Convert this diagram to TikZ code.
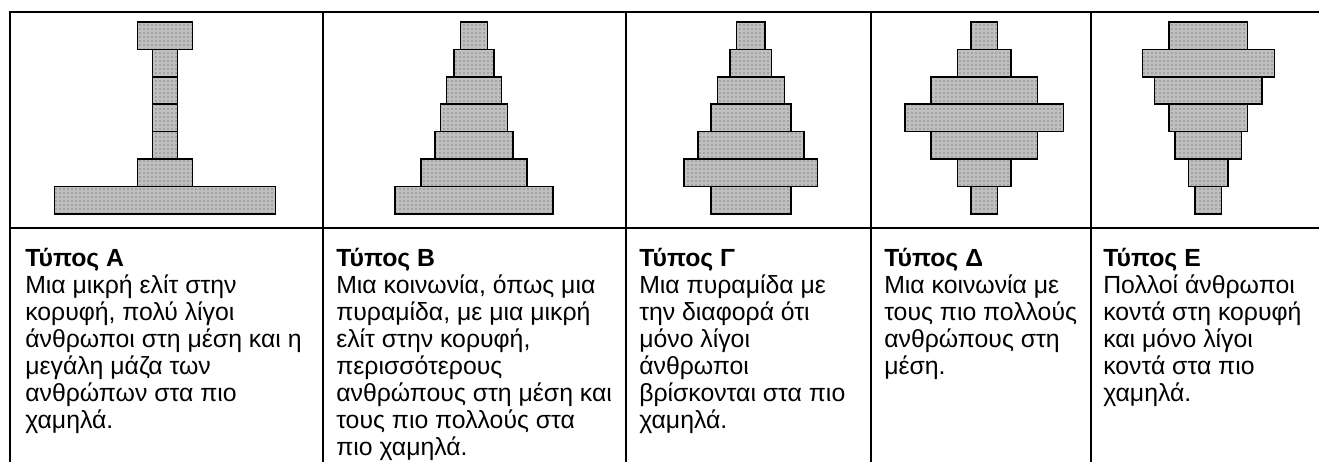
\documentclass[tikz,border=0pt]{standalone}
\usepackage{fontspec}
\setmainfont{Liberation Sans}
\usepackage{tikz}
\usetikzlibrary{patterns}

% one stacked layer of a diagram: centre x, half width, row number
\newcommand{\poprow}[3]{%
  \draw[block] ({#1-#2},{22+27.4*(#3-1)}) rectangle ({#1+#2},{22+27.4*#3});}

\begin{document}
\begin{tikzpicture}[
      x=0.75pt, y=-0.75pt,
      rule/.style={line width=1.5pt, line cap=rect},
      block/.style={draw, line width=1.1pt, preaction={fill=gray!50}, pattern=dots, pattern color=black!70},
      desc/.style={anchor=north west, inner sep=0pt, align=left, font=\fontsize{18.6}{20.2}\selectfont}
    ]
    \useasboundingbox (0,0) rectangle (1319,461);

    % table frame
    \draw[rule] (10,461) -- (10,12) -- (1319,12);
    \draw[rule] (10,228) -- (1319,228);
    \foreach \x in {323,626,871,1091}
      \draw[rule] (\x,12) -- (\x,461);

    % Type A
    \foreach \hw [count=\i] in {27.5,12.5,12.5,12.5,12.5,27.5,110.5}
      {\poprow{165}{\hw}{\i}}
    % Type B
    \foreach \hw [count=\i] in {13.5,20,27.5,33.3,39.2,52.8,79.2}
      {\poprow{474}{\hw}{\i}}
    % Type C
    \foreach \hw [count=\i] in {14.2,20.8,33.5,40,53,66.7,40}
      {\poprow{750.8}{\hw}{\i}}
    % Type D
    \foreach \hw [count=\i] in {13.3,26.8,53.3,79.2,53.3,26.8,13.3}
      {\poprow{984.3}{\hw}{\i}}
    % Type E
    \foreach \hw [count=\i] in {39.3,66,53.7,39.3,33.3,19.7,13.3}
      {\poprow{1208.4}{\hw}{\i}}

    % descriptions
    \node[desc] (tA) at (25,248) {\textbf{Τύπος Α}\\Μια μικρή ελίτ στην\\κορυφή, πολύ λίγοι\\άνθρωποι στη μέση και η\\μεγάλη μάζα των\\ανθρώπων στα πιο\\χαμηλά.};
    \node[desc] (tB) at (336,248) {\textbf{Τύπος Β}\\Μια κοινωνία, όπως μια\\πυραμίδα, με μια μικρή\\ελίτ στην κορυφή,\\περισσότερους\\ανθρώπους στη μέση και\\τους πιο πολλούς στα\\πιο χαμηλά.};
    \node[desc] (tC) at (639,248) {\textbf{Τύπος Γ}\\Μια πυραμίδα με\\την διαφορά ότι\\μόνο λίγοι\\άνθρωποι\\βρίσκονται στα πιο\\χαμηλά.};
    \node[desc] (tD) at (884,248) {\textbf{Τύπος Δ}\\Μια κοινωνία με\\τους πιο πολλούς\\ανθρώπους στη\\μέση.};
    \node[desc] (tE) at (1103,248) {\textbf{Τύπος Ε}\\Πολλοί άνθρωποι\\κοντά στη κορυφή\\και μόνο λίγοι\\κοντά στα πιο\\χαμηλά.};
  \end{tikzpicture}
\end{document}
